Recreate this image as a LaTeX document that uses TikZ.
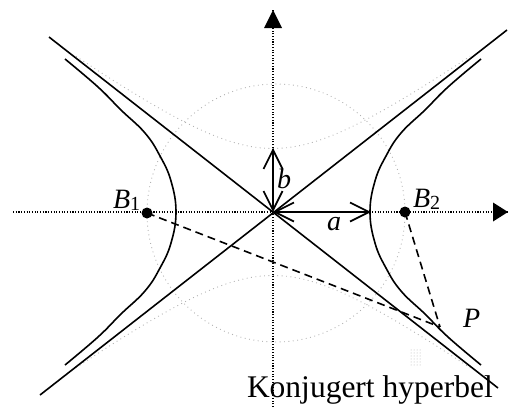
\documentclass[tikz,border=0pt]{standalone}
\usepackage{fontspec}
\setmainfont{Liberation Serif}
\usetikzlibrary{arrows.meta,patterns}
\begin{document}
\begin{tikzpicture}[x=1pt,y=-1pt,
  solidline/.style={line width=1.6pt, line join=round},
  axisline/.style={line width=1.1pt, dash pattern=on 1.1pt off 1.6pt},
  faint/.style={gray!60, line width=0.9pt, dash pattern=on 0.9pt off 3.5pt},
  dashline/.style={line width=1.6pt, dash pattern=on 8pt off 5pt},
  vec/.style={line width=1.7pt, {Straight Barb[length=19pt,width=19pt]}-{Straight Barb[length=19pt,width=19pt]}},
  lbl/.style={inner sep=0pt, outer sep=0pt, anchor=base west, font=\fontsize{28}{28}\selectfont\itshape},
  focus/.style={circle, fill=black, inner sep=0pt, minimum size=11pt}
]
\useasboundingbox (0,0) rectangle (509,407);

% key points
\coordinate (O) at (273,212);
\coordinate (XL) at (13,212);
\coordinate (XR) at (508,212);
\coordinate (YB) at (273,407);
\coordinate (YT) at (273,10);
\coordinate (A1s) at (49,37);
\coordinate (A1e) at (498,388);
\coordinate (A2s) at (40,395);
\coordinate (A2e) at (507,30);
\coordinate (Va) at (371,212);
\coordinate (Vb) at (273,148);
\coordinate (P) at (440,327);
\coordinate (C) at (276,213);

% faint construction curves
\draw[faint] (C) circle[radius=129pt];
\begin{scope}[shift={(273,212)}]
  \draw[faint] plot[domain=-197:197, samples=70] (\x,{-63.5*sqrt(1+(\x/88)^2)});
  \draw[faint] plot[domain=-197:197, samples=70] (\x,{63.5*sqrt(1+(\x/88)^2)});
\end{scope}
\fill[pattern=dots, pattern color=gray!60] (409,348) rectangle (421,365);

% axes
\draw[axisline] (XL) -- (XR);
\draw[axisline] (YB) -- (YT);
\fill (XR) -- (493,202.5) -- (493,221.5) -- cycle;
\fill (YT) -- (264,28) -- (282,28) -- cycle;

% hyperbola
\begin{scope}[shift={(273,212)}]
  \draw[solidline] plot[smooth, tension=0.7] coordinates {(208,-153) (175,-125) (152,-102) (128,-79) (113,-56) (102,-31) (97,0) (102,31) (113,56) (128,79) (152,102) (175,125) (208,153)};
  \draw[solidline] plot[smooth, tension=0.7] coordinates {(-208,-153) (-175,-125) (-152,-102) (-128,-79) (-113,-56) (-102,-31) (-97,0) (-102,31) (-113,56) (-128,79) (-152,102) (-175,125) (-208,153)};
\end{scope}

% asymptotes
\draw[solidline] (A1s) -- (A1e);
\draw[solidline] (A2s) -- (A2e);

% semi-axes
\draw[vec] (O) -- (Va);
\draw[vec] (O) -- (Vb);

% foci and point P
\node[focus] (B1) at (147,213) {};
\node[focus] (B2) at (405,212) {};
\draw[dashline] (B1.center) -- (P);
\draw[dashline] (B2.center) -- (P);

% labels
\node[lbl] (lB1) at (113,208) {B\raisebox{-2.5pt}{\upshape\fontsize{20}{20}\selectfont 1}};
\node[lbl] (lB2) at (413,207) {B\raisebox{-2.5pt}{\upshape\fontsize{20}{20}\selectfont 2}};
\node[lbl] (la) at (327,230) {a};
\node[lbl] (lb) at (277,188) {b};
\node[lbl] (lP) at (463,327) {P};
\node[lbl, font=\fontsize{31.5}{31.5}\selectfont] (cap) at (247,397) {Konjugert hyperbel};
\end{tikzpicture}
\end{document}
